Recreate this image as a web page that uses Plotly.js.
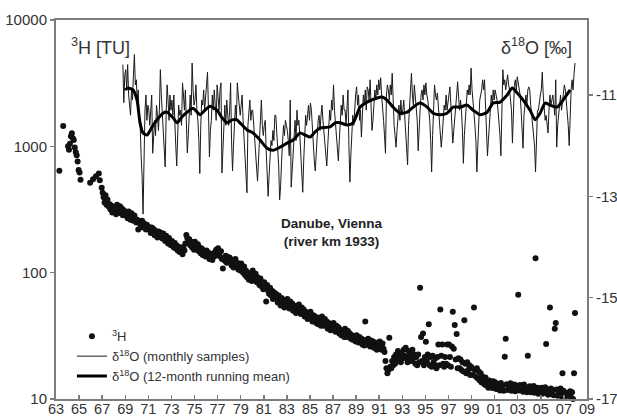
<!DOCTYPE html>
<html>
<head>
<meta charset="utf-8">
<script src="https://cdn.plot.ly/plotly-3.0.1.min.js"></script>
<style>
html,body{margin:0;padding:0;background:#fff;}
#chart{width:617px;height:418px;}
</style>
</head>
<body>
<div id="chart"></div>
<script>
// ---------- Tritium (TU), monthly samples, Jan..Dec (null = no sample) ----------
const h1963 = [null,null,null,640,null,null,null,1450,null,null,null,null];
const h1964 = [1000,940,1050,1200,1270,1160,1120,980,900,850,760,650];
const h1965 = [620,545,null,null,null,null,null,null,null,null,null,515];
const h1966 = [null,null,550,null,null,580,null,null,610,540,null,470];
const h1967 = [430,395,360,410,345,380,335,350,318,340,300,328];
const h1968 = [305,330,290,345,318,300,335,296,322,285,312,298];
const h1969 = [300,282,270,305,288,262,296,275,258,284,266,250];
const h1970 = [262,220,255,243,236,258,228,246,235,220,240,226];
const h1971 = [230,218,206,228,212,222,198,214,205,190,212,196];
const h1972 = [208,195,186,204,190,178,196,183,170,188,176,165];
const h1973 = [178,166,158,172,155,164,150,160,146,158,150,140];
const h1974 = [160,150,170,199,188,174,184,165,176,158,168,152];
const h1975 = [176,160,152,168,148,158,142,155,138,150,144,134];
const h1976 = [150,138,144,128,140,132,126,142,134,146,152,138];
const h1977 = [156,142,134,148,128,108,130,124,136,120,133,125];
const h1978 = [132,120,114,126,110,118,128,112,120,106,116,104];
const h1979 = [118,108,100,112,96,104,92,100,88,98,93,86];
const h1980 = [104,94,88,98,84,92,86,80,90,78,84,74];
const h1981 = [84,76,59,80,72,68,76,66,72,62,70,64];
const h1982 = [68,62,58,66,60,55,63,57,61,53,59,55];
const h1983 = [62,56,52,59,54,57,50,55,52,48,54,50];
const h1984 = [56,50,47,53,48,51,45,49,46,43,48,44];
const h1985 = [49,44,41,46,42,45,40,43,39,44,40,38];
const h1986 = [45,41,38,43,39,41,36,40,38,35,39,36];
const h1987 = [40,36,34,38,35,37,33,35.5,32,34.5,32.5,31];
const h1988 = [36,33,31,34.5,31.5,33,30,32,29.5,31.5,30,28.5];
const h1989 = [32,29.5,28,31,28.5,30,27,29.5,26.5,41,28.5,27];
const h1990 = [30,27.5,26,29,27,28.5,25.5,28,26.5,24.5,27.5,26];
const h1991 = [28.5,26,24.5,27.5,25,23.5,20,17.5,16,17,30.6,18];
const h1992 = [17.5,20,18.5,21.5,19,22.5,20.5,24,21,23,19.5,22.5];
const h1993 = [21,24.5,22,25.5,21,19.5,24,22,23.5,20,24.5,21];
const h1994 = [22.5,19,21.5,18.5,22.5,19.5,76,31,20,33,18.5,21.5];
const h1995 = [28.4,20,22.5,39,18.5,21.5,18,22,19.5,18.5,21,17.5];
const h1996 = [21.5,27,18.5,51,22,27,19,18,21.5,19,27,18.5];
const h1997 = [27,21.5,18,26,49,25,38.5,20.5,32.7,17.5,21,17.5];
const h1998 = [20.5,17,19.5,16.5,42,19,16,19.5,17,18.5,15.5,18];
const h1999 = [17.5,15.5,53,17,15,17.5,14.5,16.5,14,16,13.5,15];
const h2000 = [14.5,13,14.8,12.8,13.9,12.3,14,12.5,13.5,12.2,13.8,12.6];
const h2001 = [13.6,12,13.2,12.4,12.9,11.7,13.4,12.1,12.8,11.6,21.6,30];
const h2002 = [13.1,11.8,12.7,12.2,13.3,11.6,12.6,12,13,11.5,12.8,11.9];
const h2003 = [67,11.7,12.9,11.9,12.5,11.4,13,11.6,12.4,11.3,22,11.8];
const h2004 = [12.6,11.3,12.2,11.5,12.7,11.2,130,11.4,12.3,11,12,11.3];
const h2005 = [12.3,11,11.9,11.2,12.4,27.3,11.7,10.8,11.9,53,12.1,10.9];
const h2006 = [11.8,10.7,36,40,11.9,10.6,11.5,10.8,12.1,10.5,16,11.6];
const h2007 = [11.3,10.5,10.9,10.7,11.2,10.6,11.5,10.3,11.3,10.0,16,48];
const tritiumYears = [1963,1964,1965,1966,1967,1968,1969,1970,1971,1972,1973,1974,1975,1976,1977,1978,1979,1980,1981,1982,1983,1984,1985,1986,1987,1988,1989,1990,1991,1992,1993,1994,1995,1996,1997,1998,1999,2000,2001,2002,2003,2004,2005,2006,2007];
const tritiumSeries = [h1963,h1964,h1965,h1966,h1967,h1968,h1969,h1970,h1971,h1972,h1973,h1974,h1975,h1976,h1977,h1978,h1979,h1980,h1981,h1982,h1983,h1984,h1985,h1986,h1987,h1988,h1989,h1990,h1991,h1992,h1993,h1994,h1995,h1996,h1997,h1998,h1999,h2000,h2001,h2002,h2003,h2004,h2005,h2006,h2007];

// ---------- delta 18O (per mil), monthly samples ----------
const o1968 = [null,null,null,null,null,null,null,null,null,-10.4,-11.15,-10.6];
const o1969 = [-10.5,-10.9,-10.4,-11.0,-11.3,-11.4,-10.9,-11.1,-10.6,-10.2,-10.8,-10.7];
const o1970 = [-11.1,-10.9,-11.5,-11.6,-12.2,-12.6,-13.35,-11.9,-11.3,-11.0,-11.5,-11.2];
const o1971 = [-11.3,-11.6,-11.2,-11.0,-12.15,-11.9,-11.5,-11.8,-11.2,-11.4,-11.7,-11.3];
const o1972 = [-10.5,-11.0,-11.3,-11.6,-11.9,-12.42,-11.4,-10.8,-11.1,-11.5,-11.0,-11.3];
const o1973 = [-11.1,-11.4,-11.0,-11.7,-12.0,-12.4,-11.9,-11.2,-11.4,-11.3,-11.6,-10.76];
const o1974 = [-11.0,-11.3,-10.9,-11.5,-12.14,-11.8,-11.3,-11.0,-11.4,-10.37,-10.9,-11.2];
const o1975 = [-11.1,-10.8,-11.3,-11.5,-11.9,-12.55,-11.6,-11.1,-11.2,-10.9,-11.3,-11.0];
const o1976 = [-10.8,-10.55,-11.3,-12.22,-11.7,-11.5,-11.0,-11.3,-10.9,-11.2,-11.5,-10.8];
const o1977 = [-11.0,-11.3,-10.9,-10.76,-12.54,-12.0,-11.5,-11.2,-11.6,-11.1,-11.4,-11.6];
const o1978 = [-11.3,-10.76,-11.9,-12.5,-12.0,-11.6,-11.2,-11.5,-10.76,-11.0,-11.3,-11.4];
const o1979 = [-11.2,-11.0,-11.5,-11.9,-12.3,-12.6,-12.93,-11.6,-11.3,-11.1,-11.5,-11.3];
const o1980 = [-11.3,-11.6,-11.9,-12.2,-12.4,-12.7,-12.3,-11.8,-11.5,-11.1,-11.6,-11.8];
const o1981 = [-11.6,-11.5,-12.1,-12.5,-13.0,-12.6,-12.2,-11.9,-12.0,-11.7,-11.9,-11.4];
const o1982 = [-11.4,-11.7,-12.0,-12.4,-13.07,-12.8,-12.3,-11.9,-11.6,-11.8,-11.5,-11.6];
const o1983 = [-11.7,-11.9,-12.2,-11.1,-12.82,-12.5,-12.1,-11.8,-11.5,-11.9,-11.3,-11.6];
const o1984 = [-11.5,-11.8,-12.1,-12.4,-12.92,-12.3,-11.8,-11.4,-11.6,-11.3,-11.2,-11.5];
const o1985 = [-11.16,-11.3,-11.7,-12.0,-12.3,-12.5,-12.1,-11.8,-11.5,-11.4,-11.7,-11.4];
const o1986 = [-11.2,-11.5,-11.7,-11.9,-12.1,-12.4,-12.0,-11.6,-11.3,-11.5,-11.1,-11.3];
const o1987 = [-10.8,-11.3,-11.6,-11.9,-12.1,-12.3,-11.9,-11.5,-11.2,-11.4,-11.0,-11.3];
const o1988 = [-11.3,-11.6,-11.2,-10.9,-12.0,-12.72,-12.2,-11.7,-11.4,-11.6,-11.2,-11.0];
const o1989 = [-10.84,-11.2,-11.0,-11.5,-11.3,-11.83,-11.4,-11.0,-11.2,-10.9,-11.3,-10.84];
const o1990 = [-10.9,-11.1,-10.7,-11.3,-11.7,-11.5,-11.2,-10.9,-11.1,-10.8,-11.0,-10.7];
const o1991 = [-10.9,-10.66,-11.0,-11.2,-11.5,-11.8,-12.15,-11.0,-10.8,-10.9,-11.1,-10.8];
const o1992 = [-11.0,-10.57,-11.3,-11.6,-11.8,-12.03,-11.7,-11.4,-11.2,-11.5,-11.1,-11.4];
const o1993 = [-11.3,-11.1,-11.4,-11.7,-12.0,-12.38,-11.6,-11.2,-10.9,-10.57,-11.0,-11.2];
const o1994 = [-10.8,-11.0,-11.2,-11.5,-12.1,-11.6,-11.3,-11.0,-10.9,-11.1,-10.8,-11.0];
const o1995 = [-10.76,-11.0,-11.1,-11.3,-11.5,-11.9,-12.52,-11.8,-11.1,-10.8,-11.0,-11.1];
const o1996 = [-10.96,-11.2,-11.4,-11.7,-12.03,-11.8,-11.5,-11.2,-11.3,-11.0,-11.3,-11.1];
const o1997 = [-11.0,-10.84,-11.2,-11.6,-11.95,-11.7,-11.4,-11.2,-11.0,-10.74,-11.1,-11.3];
const o1998 = [-11.1,-11.3,-11.7,-12.35,-11.8,-11.4,-11.1,-10.9,-11.0,-10.8,-11.0,-10.47];
const o1999 = [-10.9,-11.1,-11.3,-11.6,-11.9,-12.52,-12.0,-11.4,-11.1,-11.0,-10.9,-10.7];
const o2000 = [-10.9,-10.7,-11.2,-11.6,-12.2,-11.9,-11.5,-11.3,-11.0,-11.2,-10.9,-11.1];
const o2001 = [-10.9,-11.0,-11.1,-11.3,-11.5,-11.8,-12.2,-11.0,-10.5,-10.8,-10.7,-10.9];
const o2002 = [-10.7,-10.6,-10.8,-10.9,-11.1,-11.3,-11.95,-11.2,-10.8,-10.7,-10.9,-10.64];
const o2003 = [-10.8,-10.9,-11.0,-11.3,-11.6,-12.05,-11.4,-11.1,-11.0,-11.2,-10.9,-10.84];
const o2004 = [-10.9,-11.2,-11.4,-11.6,-11.8,-12.0,-12.52,-11.7,-11.3,-11.3,-11.1,-11.0];
const o2005 = [-10.9,-10.55,-11.0,-11.3,-11.5,-11.4,-11.6,-11.75,-11.3,-11.0,-11.2,-11.1];
const o2006 = [-11.0,-11.2,-11.4,-10.7,-12.03,-11.6,-11.4,-11.2,-11.0,-11.3,-11.1,-10.9];
const o2007 = [-10.8,-10.9,-11.1,-11.3,-11.6,-12.0,-11.2,-10.9,-10.7,-10.9,-10.6,-10.37];
const o18Years = [1968,1969,1970,1971,1972,1973,1974,1975,1976,1977,1978,1979,1980,1981,1982,1983,1984,1985,1986,1987,1988,1989,1990,1991,1992,1993,1994,1995,1996,1997,1998,1999,2000,2001,2002,2003,2004,2005,2006,2007];
const o18Series = [o1968,o1969,o1970,o1971,o1972,o1973,o1974,o1975,o1976,o1977,o1978,o1979,o1980,o1981,o1982,o1983,o1984,o1985,o1986,o1987,o1988,o1989,o1990,o1991,o1992,o1993,o1994,o1995,o1996,o1997,o1998,o1999,o2000,o2001,o2002,o2003,o2004,o2005,o2006,o2007];

// ---------- delta 18O, 12-month running mean ----------
const rmYear = [1968.98,1969.24,1969.67,1970.02,1970.28,1970.54,1970.89,1971.32,1971.75,1972.27,1972.62,1973.14,1973.49,1973.92,1974.35,1974.87,1975.48,1975.91,1976.34,1976.95,1977.38,1977.82,1978.25,1978.68,1978.94,1979.55,1980.07,1980.68,1981.28,1981.80,1982.41,1983.02,1983.54,1984.14,1984.58,1985.01,1985.44,1985.88,1986.74,1987.18,1987.61,1988.22,1988.74,1989.34,1989.95,1990.82,1991.25,1991.68,1992.20,1992.81,1993.42,1993.94,1994.54,1995.15,1995.67,1996.28,1996.88,1997.40,1998.01,1998.62,1999.13,1999.74,2000.35,2000.87,2001.47,2002.08,2002.52,2002.95,2003.47,2004.07,2004.51,2004.94,2005.37,2005.81,2006.41,2006.93,2007.54];
const rmVal = [-10.90,-10.86,-10.90,-11.10,-11.55,-11.75,-11.79,-11.63,-11.49,-11.36,-11.34,-11.45,-11.55,-11.43,-11.34,-11.26,-11.39,-11.30,-11.22,-11.30,-11.45,-11.55,-11.49,-11.49,-11.55,-11.69,-11.75,-11.89,-12.05,-12.09,-12.03,-11.95,-11.89,-11.75,-11.79,-11.83,-11.73,-11.65,-11.63,-11.55,-11.55,-11.59,-11.55,-11.24,-11.14,-11.06,-11.04,-11.10,-11.24,-11.36,-11.34,-11.24,-11.16,-11.24,-11.36,-11.39,-11.36,-11.24,-11.24,-11.20,-11.30,-11.39,-11.34,-11.16,-11.14,-11.00,-10.86,-10.96,-11.10,-11.30,-11.49,-11.36,-11.16,-11.20,-11.24,-11.10,-10.90];

// ---------- axis ticks ----------
const xTickVals = [1963,1965,1967,1969,1971,1973,1975,1977,1979,1981,1983,1985,1987,1989,1991,1993,1995,1997,1999,2001,2003,2005,2007,2009];
const xTickText = ["63","65","67","69","71","73","75","77","79","81","83","85","87","89","91","93","95","97","99","01","03","05","07","09"];
const yTickVals = [10,100,1000,10000];
const yTickText = ["10","100","1000","10000"];
const y2TickVals = [-11,-13,-15,-17];
const y2TickText = ["-11","-13","-15","-17"];

// ---------- build series ----------
const hx = [], hy = [];
tritiumYears.forEach((yr, i) => {
  tritiumSeries[i].forEach((v, m) => {
    if (v !== null) { hx.push(yr + (m + 0.5) / 12); hy.push(v); }
  });
});
const ox = [], oy = [];
o18Years.forEach((yr, i) => {
  o18Series[i].forEach((v, m) => {
    if (v !== null) { ox.push(yr + (m + 0.5) / 12); oy.push(v); }
  });
});

const FONT = "Liberation Sans, Arial, Helvetica, sans-serif";
const TXT = "#333333";
const AX = "#7d7d7d";

const traces = [
  {
    x: hx, y: hy, type: "scatter", mode: "markers", yaxis: "y",
    name: "<sup>3</sup>H",
    marker: {size: 6, color: "#111111"},
    cliponaxis: false
  },
  {
    x: ox, y: oy, type: "scatter", mode: "lines", yaxis: "y2",
    name: "δ<sup>18</sup>O (monthly samples)",
    line: {color: "#1a1a1a", width: 1}
  },
  {
    x: rmYear, y: rmVal, type: "scatter", mode: "lines", yaxis: "y2",
    name: "δ<sup>18</sup>O (12-month running mean)",
    line: {color: "#000000", width: 3, shape: "spline", smoothing: 0.6}
  }
];

const layout = {
  width: 617, height: 418,
  margin: {l: 56, r: 30, t: 20, b: 19},
  paper_bgcolor: "#ffffff", plot_bgcolor: "#ffffff",
  font: {family: FONT, color: TXT, size: 15},
  showlegend: true,
  legend: {
    x: 0.03, y: 0.205, xanchor: "left", yanchor: "top",
    bgcolor: "rgba(0,0,0,0)", font: {family: FONT, size: 13, color: TXT},
    itemwidth: 30, tracegroupgap: 0
  },
  xaxis: {
    range: [1963, 2009], tickvals: xTickVals, ticktext: xTickText,
    ticks: "inside", ticklen: 4, tickwidth: 1.5, tickcolor: AX,
    ticklabelstandoff: -4,
    showline: true, linecolor: AX, linewidth: 2, mirror: true,
    showgrid: false, zeroline: false,
    tickfont: {family: FONT, size: 14.5, color: TXT}
  },
  yaxis: {
    type: "log", range: [1, 4], tickvals: yTickVals, ticktext: yTickText,
    ticks: "outside", ticklen: 4, tickwidth: 1.5, tickcolor: AX,
    showline: true, linecolor: AX, linewidth: 2,
    showgrid: false, zeroline: false,
    tickfont: {family: FONT, size: 15, color: TXT}
  },
  yaxis2: {
    overlaying: "y", side: "right",
    range: [-17, -9.52], tickvals: y2TickVals, ticktext: y2TickText,
    ticks: "outside", ticklen: 4, tickwidth: 1.5, tickcolor: AX,
    showline: true, linecolor: AX, linewidth: 2,
    showgrid: false, zeroline: false,
    tickfont: {family: FONT, size: 15, color: TXT}
  },
  annotations: [
    {xref: "paper", yref: "paper", x: 0.025, y: 0.93, xanchor: "left", yanchor: "middle",
     text: "<sup>3</sup>H [TU]", showarrow: false, font: {family: FONT, size: 18, color: TXT}},
    {xref: "paper", yref: "paper", x: 0.975, y: 0.93, xanchor: "right", yanchor: "middle",
     text: "δ<sup>18</sup>O [‰]", showarrow: false, font: {family: FONT, size: 18, color: TXT}},
    {xref: "paper", yref: "paper", x: 0.52, y: 0.44, xanchor: "center", yanchor: "middle",
     text: "<b>Danube, Vienna</b><br><b>(river km 1933)</b>", showarrow: false,
     font: {family: FONT, size: 13.5, color: "#222222"}}
  ]
};

Plotly.newPlot("chart", traces, layout, {displayModeBar: false, staticPlot: true});
</script>
</body>
</html>
